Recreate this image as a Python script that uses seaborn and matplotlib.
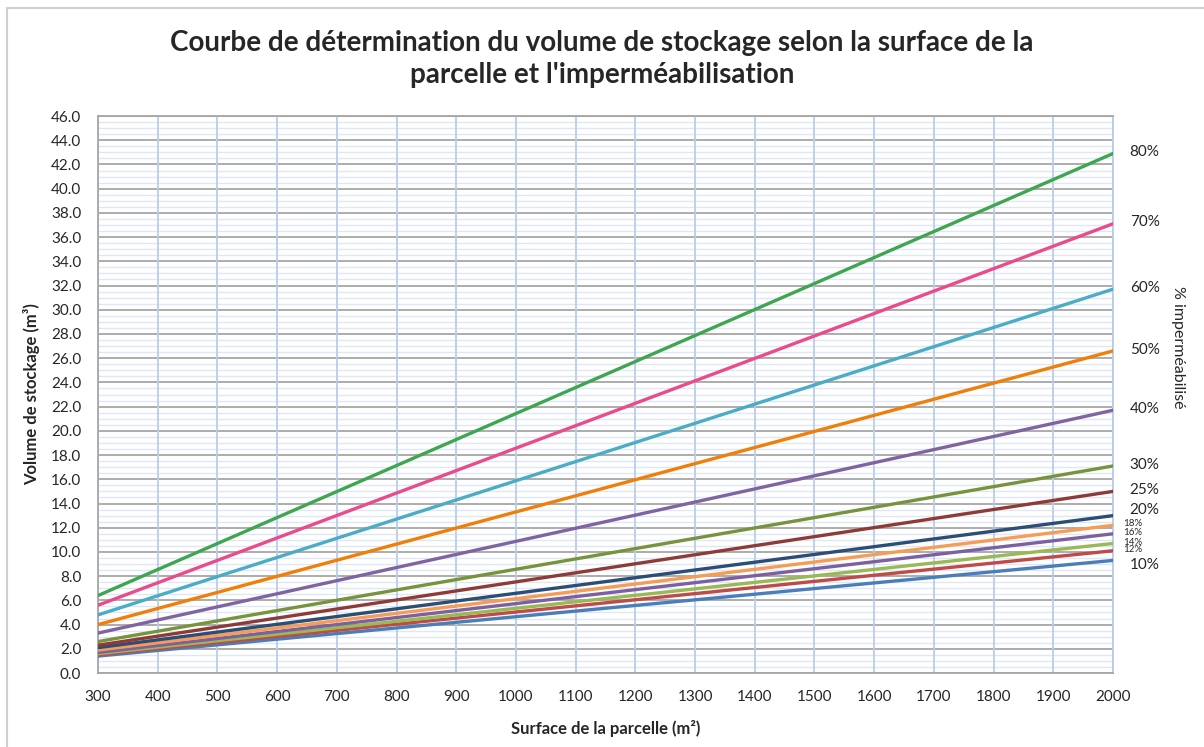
import numpy as np
import pandas as pd
import seaborn as sns
import matplotlib.pyplot as plt
from matplotlib.lines import Line2D
from matplotlib.ticker import MultipleLocator

#%% Data (straight lines -> end points)
surface = [300, 2000]
pct_labels = ['10%', '12%', '14%', '16%', '18%', '20%', '25%', '30%', '40%', '50%', '60%', '70%', '80%']
vol_300 = [1.4, 1.5, 1.6, 1.7, 1.9, 2.1, 2.3, 2.6, 3.3, 4.0, 4.8, 5.6, 6.4]
vol_2000 = [9.3, 10.1, 10.7, 11.5, 12.2, 13.0, 15.0, 17.1, 21.7, 26.6, 31.7, 37.1, 42.9]
colors = ['#4a7ebb', '#be4b48', '#98b954', '#7d60a0', '#f59d56', '#2c4d75', '#8e3b38',
          '#77933c', '#8064a2', '#f07f09', '#4bacc6', '#e84c8b', '#3ea650']

df = pd.DataFrame({
    'Surface': np.tile(surface, len(pct_labels)),
    'Volume': np.ravel(np.column_stack([vol_300, vol_2000])),
    'Pct': np.repeat(pct_labels, len(surface)),
})

#%% Figure
sns.set_style('white')
plt.rcParams['font.family'] = ['Lato', 'DejaVu Sans']

fig = plt.figure(figsize=(12.04, 7.47), dpi=100)
ax = fig.add_axes([0.0814, 0.099, 0.843, 0.7457])

# grid
ax.xaxis.set_major_locator(MultipleLocator(100))
ax.yaxis.set_major_locator(MultipleLocator(2))
ax.yaxis.set_minor_locator(MultipleLocator(0.5))
ax.grid(axis='x', which='major', color='#b9cdea', lw=1.3)
ax.grid(axis='y', which='minor', color='#dfe7f4', lw=1.0)
ax.grid(axis='y', which='major', color='#a6a6a6', lw=1.3)
ax.tick_params(which='both', length=0)
ax.tick_params(axis='both', labelsize=11, pad=12)
ax.set_axisbelow(True)
ax.xaxis.set_zorder(0.7)

sns.lineplot(data=df, x='Surface', y='Volume', hue='Pct', palette=colors,
             lw=2.4, legend=False, ax=ax, zorder=3)

ax.set_xlim(300, 2000)
ax.set_ylim(0, 46)
ax.yaxis.set_major_formatter(lambda v, p: f'{v:.1f}')

for side in ['top', 'left', 'bottom']:
    ax.spines[side].set_color('#a6a6a6')
    ax.spines[side].set_linewidth(1.3)
ax.spines['right'].set_color('#b9cdea')
ax.spines['right'].set_linewidth(1.3)

ax.set_xlabel('Surface de la parcelle (m²)', fontsize=12, fontweight='bold', labelpad=12)
ax.set_ylabel('Volume de stockage (m³)', fontsize=12, fontweight='bold', labelpad=8)

# end labels
small = {'12%', '14%', '16%', '18%'}
dy = {'10%': -3, '20%': 4}
for lab, v in zip(pct_labels, vol_2000):
    fs = 7 if lab in small else 11
    dx = 7 if lab in small else 12
    ax.annotate(lab, xy=(2000, v), xytext=(dx, dy.get(lab, 1)),
                textcoords='offset points', va='center', ha='left', fontsize=fs,
                annotation_clip=False)

fig.text(0.978, 0.535, '% imperméabilisé', rotation=-90, va='center', ha='center', fontsize=11.5)

fig.suptitle("Courbe de détermination du volume de stockage selon la surface de la\n"
             "parcelle et l'imperméabilisation", x=0.5, y=0.96, fontsize=20,
             fontweight='bold', linespacing=1.3)

# chart frame
fig.add_artist(Line2D([7 / 1204, 7 / 1204], [0, 1 - 8 / 747], transform=fig.transFigure, color='#d0d0d0', lw=1.5))
fig.add_artist(Line2D([7 / 1204, 1], [1 - 8 / 747, 1 - 8 / 747], transform=fig.transFigure, color='#d0d0d0', lw=1.5))

fig.savefig('out.png', dpi=100)
